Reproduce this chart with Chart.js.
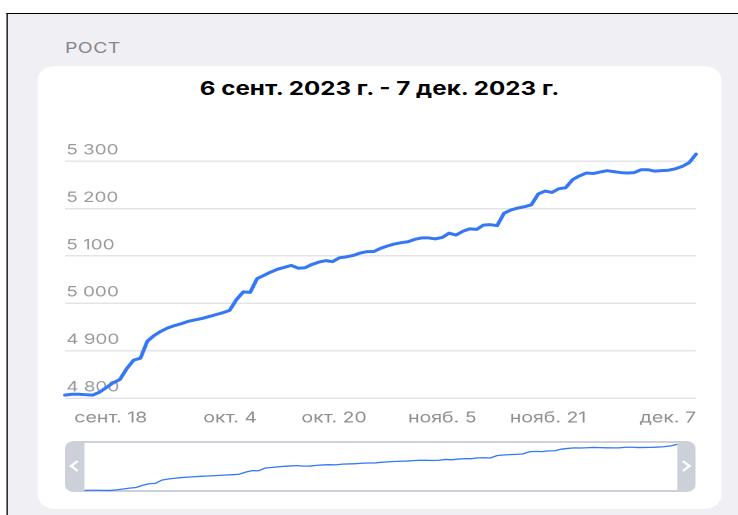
<!DOCTYPE html>
<html lang="ru">
<head>
<meta charset="utf-8">
<title>Рост</title>
<script src="https://cdn.jsdelivr.net/npm/chart.js@4.4.6/dist/chart.umd.min.js"></script>
<style>
  html, body { margin: 0; padding: 0; background: #fff; overflow: hidden; }
  /* the source screenshot is stretched ~1.3x sideways, so lay out at 1x and stretch */
  #page { position: absolute; left: 0; top: 0; width: 568px; height: 515px;
          transform: scaleX(1.3); transform-origin: 0 0;
          font-family: Inter, 'Noto Sans', sans-serif; }
  .frame { position: absolute; left: 5px; top: 13px; right: 0; bottom: 0;
           background: #efeff4; border-top: 1px solid #000; border-left: 1px solid #000; }
  .section { position: absolute; left: 50px; top: 39px; font-size: 15px; line-height: 18px;
             color: #86868b; letter-spacing: 0.3px; }
  .card { position: absolute; left: 29px; top: 66px; width: 526px; height: 443px;
          background: #fff; border-radius: 14px; }
  .title { position: absolute; left: 29px; top: 78px; width: 526px; text-align: center;
           font-size: 18.6px; line-height: 20px; font-weight: 700; color: #000; }
  #main { position: absolute; left: 40px; top: 130px; }
  .nav { position: absolute; left: 50px; top: 441px; width: 485px; height: 51px;
         background: #ccd1d9; border-radius: 7px; }
  .nav .inner { position: absolute; left: 14.5px; right: 14.5px; top: 2px; bottom: 2px; background: #fff; }
  .chev { position: absolute; top: 21px; width: 6px; height: 6px;
          border-left: 2px solid #fff; border-bottom: 2px solid #fff; }
  .chev.l { left: 5px; transform: rotate(45deg); }
  .chev.r { right: 5px; transform: rotate(-135deg); }
  #mini { position: absolute; left: 64.5px; top: 441px; }
</style>
</head>
<body>
<div id="page">
  <div class="frame"></div>
  <div class="section">РОСТ</div>
  <div class="card"></div>
  <div class="title">6 сент. 2023 г. - 7 дек. 2023 г.</div>
  <canvas id="main" width="510" height="310"></canvas>
  <div class="nav"><div class="inner"></div><span class="chev l"></span><span class="chev r"></span></div>
  <canvas id="mini" width="456" height="51"></canvas>
</div>
<script>
// one value per day, 6 Sep 2023 .. 7 Dec 2023
const values = [
  4806, 4808, 4808, 4807, 4806, 4812, 4822, 4832, 4839, 4862,
  4880, 4884, 4920, 4932, 4941, 4948, 4953, 4957, 4962, 4965,
  4968, 4972, 4976, 4980, 4985, 5008, 5024, 5023, 5052, 5059,
  5066, 5072, 5076, 5080, 5074, 5075, 5082, 5087, 5090, 5088,
  5096, 5098, 5101, 5106, 5109, 5109, 5116, 5121, 5125, 5128,
  5130, 5135, 5138, 5138, 5136, 5139, 5148, 5144, 5152, 5157,
  5156, 5165, 5166, 5164, 5190, 5197, 5201, 5204, 5208, 5231,
  5237, 5234, 5242, 5244, 5261, 5269, 5275, 5274, 5277, 5280,
  5278, 5276, 5275, 5276, 5282, 5282, 5279, 5280, 5281, 5284,
  5289, 5297, 5315,
];
const yTicks = [4800, 4900, 5000, 5100, 5200, 5300];
const xTickDays = [12, 28, 44, 60, 76, 92];
const xTickLabels = ['сент. 18', 'окт. 4', 'окт. 20', 'нояб. 5', 'нояб. 21', 'дек. 7'];

const BLUE = '#3478f6';
const points = values.map((v, i) => ({ x: i, y: v }));
const fmt = (v) => String(v).replace(/\B(?=(\d{3})+(?!\d))/g, ' ');

new Chart(document.getElementById('main'), {
  type: 'line',
  data: { datasets: [{ data: points, borderColor: BLUE, borderWidth: 3, pointRadius: 0,
                       tension: 0, clip: false, borderJoinStyle: 'round', borderCapStyle: 'round' }] },
  options: {
    responsive: false,
    animation: false,
    devicePixelRatio: 2,
    layout: { autoPadding: false, padding: { left: 10, right: 14.6, top: 17, bottom: 0 } },
    plugins: { legend: { display: false }, tooltip: { enabled: false } },
    scales: {
      x: {
        type: 'linear', min: 0, max: values.length - 1,
        grid: { display: false, drawTicks: false },
        border: { display: false },
        afterBuildTicks: (s) => { s.ticks = xTickDays.map((v) => ({ value: v })); },
        afterFit: (s) => { s.height = 42; },
        ticks: { align: 'end', padding: 11, autoSkip: false, maxRotation: 0, color: '#8e8e93',
                 font: { family: 'Inter', size: 15 }, callback: (v, i) => xTickLabels[i] },
      },
      y: {
        min: 4800, max: 5330,
        grid: { color: '#e4e4e8', lineWidth: 1.5, drawTicks: false },
        border: { display: false },
        afterBuildTicks: (s) => { s.ticks = yTicks.map((v) => ({ value: v })); },
        afterFit: (s) => { s.width = 0; },
        ticks: { mirror: true, padding: 1, labelOffset: -11, color: '#9a9a9e',
                 font: { family: 'Inter', size: 14.5 }, callback: fmt },
      },
    },
  },
});

new Chart(document.getElementById('mini'), {
  type: 'line',
  data: { datasets: [{ data: points, borderColor: BLUE, borderWidth: 1.3, pointRadius: 0, tension: 0, clip: false }] },
  options: {
    responsive: false,
    animation: false,
    devicePixelRatio: 2,
    layout: { autoPadding: false, padding: { left: 0, right: 0, top: 3, bottom: 1 } },
    plugins: { legend: { display: false }, tooltip: { enabled: false } },
    scales: {
      x: { type: 'linear', display: false, min: 0, max: values.length - 1 },
      y: { display: false, min: 4800, max: 5318 },
    },
  },
});
</script>
</body>
</html>
